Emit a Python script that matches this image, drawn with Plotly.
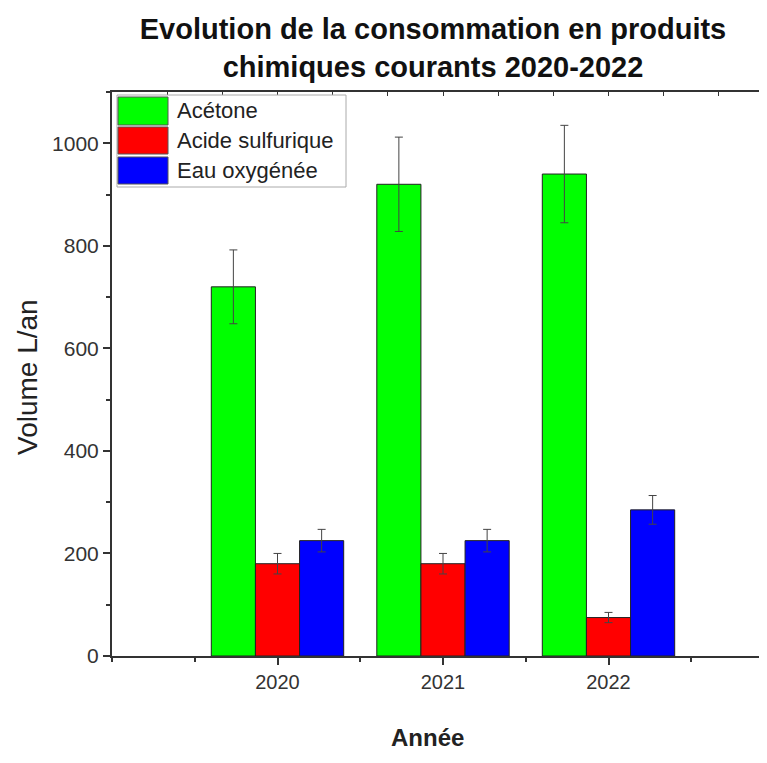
import plotly.graph_objects as go

years = [2020, 2021, 2022]
series_names = ["Acétone", "Acide sulfurique", "Eau oxygénée"]
acetone = [720, 920, 940]
acetone_err = [72, 92, 95]
acide = [180, 180, 75]
acide_err = [20, 20, 10]
eau = [225, 225, 285]
eau_err = [22, 22, 28]
colors = ["#00ff00", "#ff0000", "#0000ff"]

OFF = 8  # default page body margin
W, H = 767 - 2 * OFF, 763 - 2 * OFF
L = 112 - OFF
T = 92 - OFF
B = H - (656 - OFF)
R = 0
pw, ph = W - L - R, H - T - B
XMAX = 2019 + (W + OFF - 112) / 165.5


def px(x):
    return (x - OFF - L) / pw


def py(y):
    return 1 - (y - OFF - T) / ph


fig = go.Figure()
for name, vals, errs, col in zip(series_names, [acetone, acide, eau],
                                 [acetone_err, acide_err, eau_err], colors):
    fig.add_trace(go.Bar(
        x=years, y=vals, name=name, marker_color=col,
        marker_line=dict(color="#222222", width=1),
        error_y=dict(type="data", array=errs, visible=True,
                     color="#444444", thickness=1, width=4),
        showlegend=False,
    ))

# invisible trace for top axis
fig.add_trace(go.Scatter(x=[2019, XMAX], y=[None, None], xaxis="x2",
                         showlegend=False, hoverinfo="skip"))

font = "Liberation Sans, Arial, sans-serif"

# manual legend
shapes = [dict(type="rect", xref="paper", yref="paper",
               x0=px(117), x1=px(346), y0=py(187), y1=py(95),
               line=dict(color="#aaaaaa", width=1), fillcolor="white", layer="above")]
annots = []
rows = [(97, 125), (127, 154), (157, 184)]
for (y0, y1), name, col in zip(rows, series_names, colors):
    shapes.append(dict(type="rect", xref="paper", yref="paper",
                       x0=px(118), x1=px(168), y0=py(y1), y1=py(y0),
                       line=dict(color="#555555", width=1), fillcolor=col, layer="above"))
    annots.append(dict(xref="paper", yref="paper", x=px(175), y=py((y0 + y1) / 2),
                       text=name, showarrow=False, xanchor="left", yanchor="middle",
                       font=dict(family=font, size=22, color="#222222")))

# axis titles
annots.append(dict(xref="paper", yref="paper", x=px(27), y=py(377), text="Volume L/an",
                   textangle=-90, showarrow=False, xanchor="center", yanchor="middle",
                   font=dict(family=font, size=28, color="#222222")))
annots.append(dict(xref="paper", yref="paper", x=px(427), y=py(753), text="<b>Année</b>",
                   showarrow=False, xanchor="center", yanchor="bottom",
                   font=dict(family=font, size=24, color="#222222")))

fig.update_layout(
    width=W, height=H,
    margin=dict(l=L, r=R, t=T, b=B),
    paper_bgcolor="white", plot_bgcolor="white",
    barmode="group", bargap=0.2, bargroupgap=0,
    font=dict(family=font, color="#222222"),
    title=dict(text="<b>Evolution de la consommation en produits<br>chimiques courants 2020-2022</b>",
               x=(433 - OFF) / W, xanchor="center", y=1 - (39 - OFF) / H, yanchor="middle",
               font=dict(family=font, size=29, color="#111111")),
    xaxis=dict(range=[2019, XMAX], tickvals=years, ticktext=[str(y) for y in years],
               automargin=False,
               showline=True, linecolor="#333333", linewidth=2,
               ticks="outside", ticklen=7, tickwidth=1.5, tickcolor="#333333",
               minor=dict(dtick=0.5, tick0=2019.5, ticks="outside", ticklen=4, tickcolor="#333333"),
               tickfont=dict(size=20, color="#333333"), showgrid=False, zeroline=False),
    xaxis2=dict(overlaying="x", side="top", range=[2019, XMAX], dtick=1 / 3, tick0=2019,
                automargin=False,
                showline=True, linecolor="#333333", linewidth=2,
                ticks="inside", ticklen=4, tickcolor="#333333", showticklabels=False,
                showgrid=False, zeroline=False),
    yaxis=dict(range=[0, 1100], dtick=200, automargin=False,
               showline=True, linecolor="#333333", linewidth=2,
               ticks="outside", ticklen=7, tickwidth=1.5, tickcolor="#333333",
               minor=dict(dtick=100, ticks="outside", ticklen=4, tickcolor="#333333"),
               tickfont=dict(size=21, color="#333333"), showgrid=False, zeroline=False),
    shapes=shapes, annotations=annots,
)

fig.write_html("out.html")
